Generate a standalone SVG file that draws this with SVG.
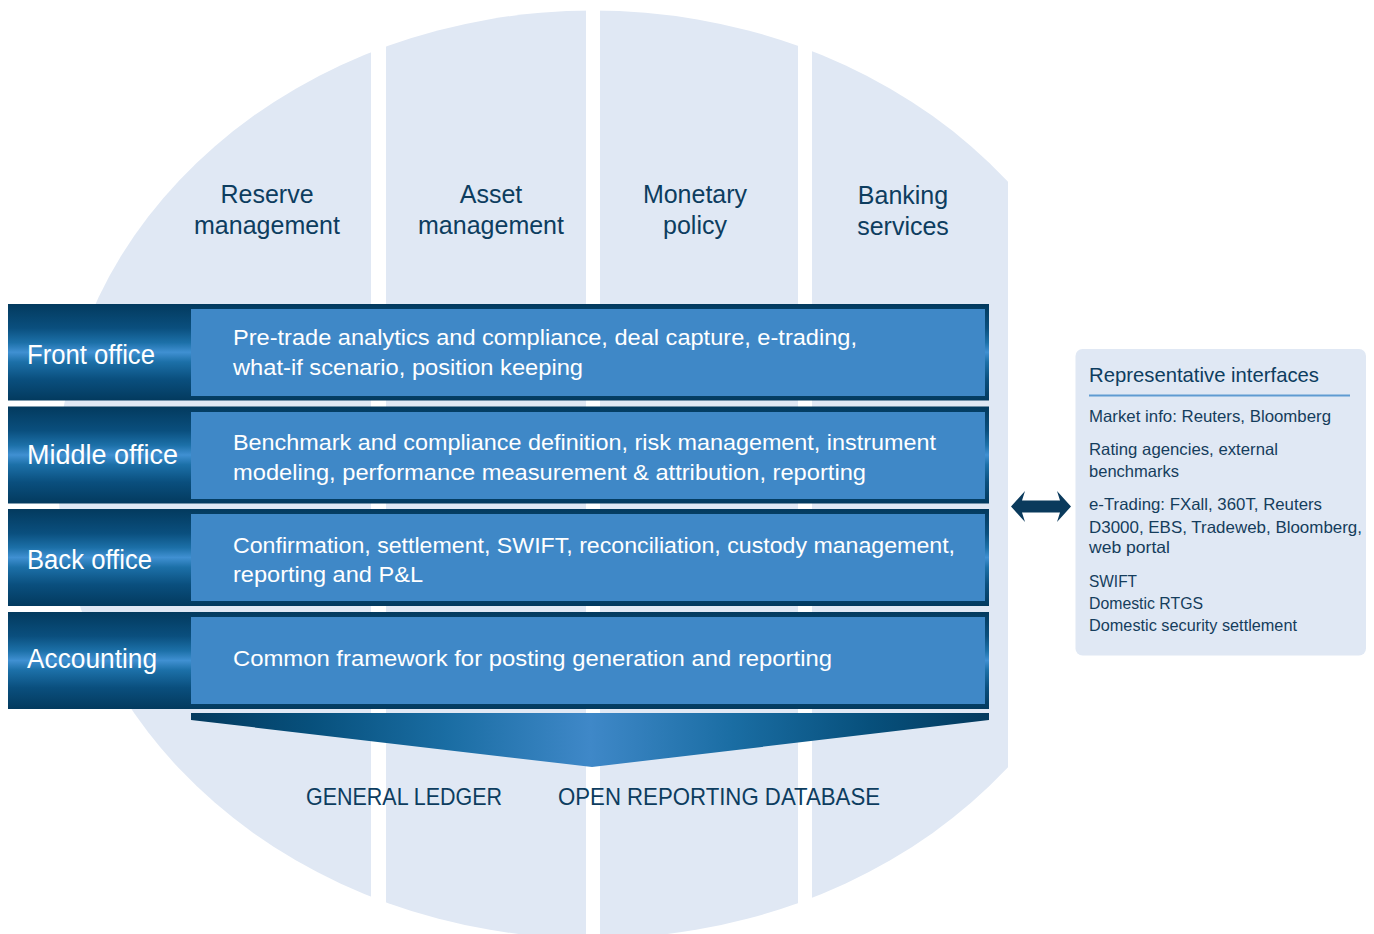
<svg xmlns="http://www.w3.org/2000/svg" width="1374" height="934" viewBox="0 0 1374 934">
<defs>
<style>
.col{fill:#e0e8f4}
.hdr{font-family:"Liberation Sans",Arial,sans-serif;font-size:25px;fill:#0d3d5f;text-anchor:middle}
.lbl{font-family:"Liberation Sans",Arial,sans-serif;font-size:27px;fill:#ffffff}
.desc{font-family:"Liberation Sans",Arial,sans-serif;font-size:22px;fill:#ffffff}
.bot{font-family:"Liberation Sans",Arial,sans-serif;font-size:24px;fill:#0d3d5f}
.ttl{font-family:"Liberation Sans",Arial,sans-serif;font-size:21px;fill:#0d3d5f}
.itm{font-family:"Liberation Sans",Arial,sans-serif;font-size:16.5px;fill:#153d5c}
.inner{fill:#3f88c7}
</style>
<clipPath id="ell"><ellipse cx="593" cy="474.5" rx="535" ry="464"/></clipPath>
<linearGradient id="band" x1="0" y1="0" x2="0" y2="1">
<stop offset="0" stop-color="#033a5e"/>
<stop offset="0.25" stop-color="#0a4f7e"/>
<stop offset="0.4" stop-color="#1c70a8"/>
<stop offset="0.5" stop-color="#4090d2"/>
<stop offset="0.6" stop-color="#1c70a8"/>
<stop offset="0.78" stop-color="#0a4f7e"/>
<stop offset="1" stop-color="#033a5e"/>
</linearGradient>
<linearGradient id="fun" x1="0" y1="0" x2="1" y2="0">
<stop offset="0" stop-color="#033a5e"/>
<stop offset="0.15" stop-color="#07507c"/>
<stop offset="0.32" stop-color="#1a6da3"/>
<stop offset="0.5" stop-color="#3f88c8"/>
<stop offset="0.68" stop-color="#1a6da3"/>
<stop offset="0.85" stop-color="#07507c"/>
<stop offset="1" stop-color="#033a5e"/>
</linearGradient>
</defs>
<rect width="1374" height="934" fill="#ffffff"/>
<g id="columns" clip-path="url(#ell)">
<rect class="col" x="0" y="0" width="371" height="934"/>
<rect class="col" x="386" y="0" width="200" height="934"/>
<rect class="col" x="600" y="0" width="198" height="934"/>
<rect class="col" x="812" y="0" width="196" height="934"/>
</g>
<g id="headers">
<text class="hdr" x="267" y="203">Reserve</text>
<text class="hdr" x="267" y="234">management</text>
<text class="hdr" x="491" y="203">Asset</text>
<text class="hdr" x="491" y="234">management</text>
<text class="hdr" x="695" y="203">Monetary</text>
<text class="hdr" x="695" y="234">policy</text>
<text class="hdr" x="903" y="204">Banking</text>
<text class="hdr" x="903" y="235">services</text>
</g>
<g id="front-office">
<rect x="8" y="304" width="981" height="96.5" fill="url(#band)"/>
<rect class="inner" x="191" y="309" width="794" height="87"/>
<text class="lbl" x="27" y="364" textLength="128" lengthAdjust="spacingAndGlyphs">Front office</text>
<text class="desc" x="233" y="345" textLength="624" lengthAdjust="spacingAndGlyphs">Pre-trade analytics and compliance, deal capture, e-trading,</text>
<text class="desc" x="233" y="375" textLength="350" lengthAdjust="spacingAndGlyphs">what-if scenario, position keeping</text>
</g>
<g id="middle-office">
<rect x="8" y="406.5" width="981" height="97" fill="url(#band)"/>
<rect class="inner" x="191" y="412" width="794" height="87"/>
<text class="lbl" x="27" y="464" textLength="151" lengthAdjust="spacingAndGlyphs">Middle office</text>
<text class="desc" x="233" y="450" textLength="703" lengthAdjust="spacingAndGlyphs">Benchmark and compliance definition, risk management, instrument</text>
<text class="desc" x="233" y="480" textLength="633" lengthAdjust="spacingAndGlyphs">modeling, performance measurement &amp; attribution, reporting</text>
</g>
<g id="back-office">
<rect x="8" y="509" width="981" height="97" fill="url(#band)"/>
<rect class="inner" x="191" y="514" width="794" height="87"/>
<text class="lbl" x="27" y="569" textLength="125" lengthAdjust="spacingAndGlyphs">Back office</text>
<text class="desc" x="233" y="553" textLength="722" lengthAdjust="spacingAndGlyphs">Confirmation, settlement, SWIFT, reconciliation, custody management,</text>
<text class="desc" x="233" y="582" textLength="190" lengthAdjust="spacingAndGlyphs">reporting and P&amp;L</text>
</g>
<g id="accounting">
<rect x="8" y="612" width="981" height="97" fill="url(#band)"/>
<rect class="inner" x="191" y="617" width="794" height="87"/>
<text class="lbl" x="27" y="668" textLength="130" lengthAdjust="spacingAndGlyphs">Accounting</text>
<text class="desc" x="233" y="666" textLength="599" lengthAdjust="spacingAndGlyphs">Common framework for posting generation and reporting</text>
</g>
<g id="funnel">
<polygon points="191,713 989,713 989,720 592,767 191,720" fill="url(#fun)"/>
</g>
<g id="outputs">
<text class="bot" x="306" y="805" textLength="196" lengthAdjust="spacingAndGlyphs">GENERAL LEDGER</text>
<text class="bot" x="558" y="805" textLength="322" lengthAdjust="spacingAndGlyphs">OPEN REPORTING DATABASE</text>
</g>
<g id="interfaces">
<rect x="1075.5" y="349" width="290.5" height="306.5" rx="7" fill="#e0e8f4"/>
<text class="ttl" x="1089" y="382" textLength="230" lengthAdjust="spacingAndGlyphs">Representative interfaces</text>
<line x1="1089" y1="395.5" x2="1350" y2="395.5" stroke="#5f9bd2" stroke-width="2"/>
<text class="itm" x="1089" y="422" textLength="242" lengthAdjust="spacingAndGlyphs">Market info: Reuters, Bloomberg</text>
<text class="itm" x="1089" y="455" textLength="189" lengthAdjust="spacingAndGlyphs">Rating agencies, external</text>
<text class="itm" x="1089" y="477" textLength="90" lengthAdjust="spacingAndGlyphs">benchmarks</text>
<text class="itm" x="1089" y="510" textLength="233" lengthAdjust="spacingAndGlyphs">e-Trading: FXall, 360T, Reuters</text>
<text class="itm" x="1089" y="532.5" textLength="273" lengthAdjust="spacingAndGlyphs">D3000, EBS, Tradeweb, Bloomberg,</text>
<text class="itm" x="1089" y="553" textLength="81" lengthAdjust="spacingAndGlyphs">web portal</text>
<text class="itm" x="1089" y="587" textLength="48" lengthAdjust="spacingAndGlyphs">SWIFT</text>
<text class="itm" x="1089" y="608.5" textLength="114" lengthAdjust="spacingAndGlyphs">Domestic RTGS</text>
<text class="itm" x="1089" y="630.5" textLength="208" lengthAdjust="spacingAndGlyphs">Domestic security settlement</text>
</g>
<g id="connectors">
<polygon points="1011,506.5 1025,491 1022,500.5 1060,500.5 1057,491 1071,506.5 1057,522 1060,512.5 1022,512.5 1025,522" fill="#0a3a5c"/>
</g>
</svg>
